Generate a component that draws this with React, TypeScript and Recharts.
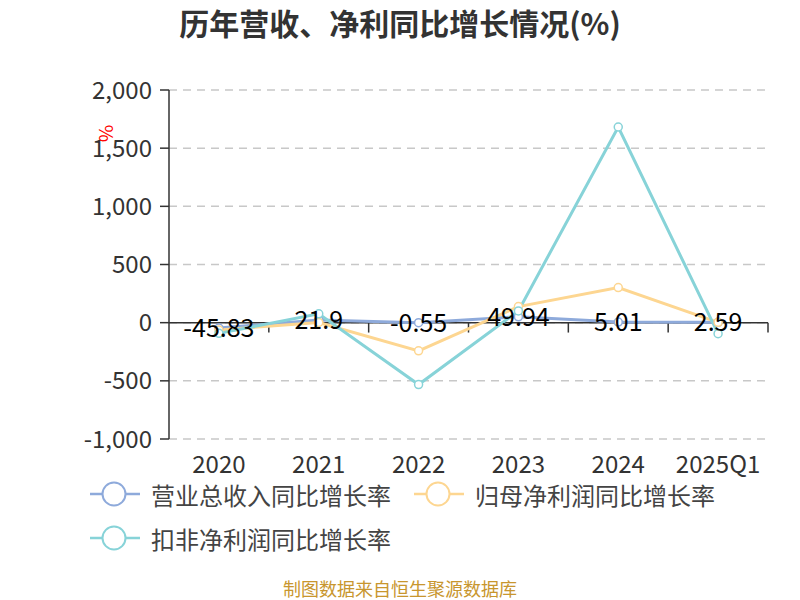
import React from 'react';
import { LineChart, Line, XAxis, YAxis, CartesianGrid, ReferenceLine, LabelList } from 'recharts';

const categories = ['2020', '2021', '2022', '2023', '2024', '2025Q1'];
const revenueGrowth = [-45.83, 21.9, -0.55, 49.94, 5.01, 2.59];
const netProfitGrowth = [-63, 2, -242, 138, 302, 3];
const deductedProfitGrowth = [-92, 76, -532, 101, 1682, -95];
const yTicks = [-1000, -500, 0, 500, 1000, 1500, 2000];

const series = [
  { key: 'revenue', name: '营业总收入同比增长率', color: '#8eaadb' },
  { key: 'netProfit', name: '归母净利润同比增长率', color: '#fdd691' },
  { key: 'deducted', name: '扣非净利润同比增长率', color: '#87d3d8' },
];

const data = categories.map((c, i) => ({
  cat: c,
  revenue: revenueGrowth[i],
  netProfit: netProfitGrowth[i],
  deducted: deductedProfitGrowth[i],
}));

const FONT = '"Noto Sans CJK SC", "Noto Sans", sans-serif';

const XTick = (props: any) => {
  const { x, y, payload } = props;
  return (
    <text x={x} y={y} dy={15} textAnchor="middle" dominantBaseline="central" fontSize={24} fill="#333" fontFamily={FONT}>
      {payload.value}
    </text>
  );
};

const PointLabel = (props: any) => {
  const { x, y, value } = props;
  return (
    <text x={x} y={y} dy={-2} textAnchor="middle" dominantBaseline="central" fontSize={25} fill="#000" fontFamily={FONT}>
      {value}
    </text>
  );
};

const tickSegments = categories.slice(1).map((c) => ({ cat: c }));
const lastCat = categories[categories.length - 1];

export default function App() {
  return (
    <div style={{ position: 'absolute', left: 0, top: 0, width: 800, height: 600, background: '#fff', fontFamily: FONT }}>
      <LineChart width={800} height={600} data={data} margin={{ top: 90, right: 32, left: 0, bottom: 121 }}>
        <CartesianGrid vertical={false} stroke="#c8c8c8" strokeDasharray="8 6" strokeWidth={1.5} />
        <XAxis dataKey="cat" scale="band" height={40} axisLine={false} tickLine={false} tick={<XTick />} interval={0} />
        <YAxis
          width={169}
          domain={[-1000, 2000]}
          ticks={yTicks}
          interval={0}
          tickFormatter={(v: number) => v.toLocaleString('en-US')}
          tick={{ fontSize: 24, fill: '#333', fontFamily: FONT }}
          tickSize={9}
          tickMargin={8}
          axisLine={{ stroke: '#333', strokeWidth: 1.5 }}
          tickLine={{ stroke: '#333', strokeWidth: 1.5 }}
        />
        <ReferenceLine y={0} stroke="#333" strokeWidth={1.5} />
        {tickSegments.map((t) => (
          <ReferenceLine
            key={t.cat}
            segment={[{ x: t.cat, y: 0 }, { x: t.cat, y: -85 }]}
            position="start"
            stroke="#333"
            strokeWidth={1.5}
          />
        ))}
        <ReferenceLine
          segment={[{ x: lastCat, y: 0 }, { x: lastCat, y: -85 }]}
          position="end"
          stroke="#333"
          strokeWidth={1.5}
        />
        {series.map((s) => (
          <Line
            key={s.key}
            dataKey={s.key}
            name={s.name}
            stroke={s.color}
            strokeWidth={3}
            dot={{ r: 4, fill: '#fff', stroke: s.color, strokeWidth: 1.5 }}
            activeDot={false}
            isAnimationActive={false}
          />
        ))}
        <Line dataKey="revenue" stroke="none" dot={false} activeDot={false} isAnimationActive={false} legendType="none">
          <LabelList dataKey="revenue" content={<PointLabel />} />
        </Line>
      </LineChart>

      <div style={{ position: 'absolute', left: 0, top: 3, width: 800, textAlign: 'center', fontSize: 30, lineHeight: '38px', fontWeight: 'bold', color: '#333' }}>
        历年营收、净利同比增长情况(%)
      </div>
      <div style={{ position: 'absolute', left: 99, top: 124, color: '#f00', fontSize: 19, transform: 'rotate(90deg)', lineHeight: '19px' }}>
        %
      </div>

      <svg width={800} height={600} style={{ position: 'absolute', left: 0, top: 0, pointerEvents: 'none' }}>
        {series.map((s, i) => {
          const lx = i === 1 ? 414 : 90;
          const ly = i === 2 ? 538 : 494;
          return (
            <g key={s.key}>
              <line x1={lx} y1={ly} x2={lx + 50} y2={ly} stroke={s.color} strokeWidth={2.5} />
              <circle cx={lx + 24} cy={ly} r={11.5} fill="#fff" stroke={s.color} strokeWidth={2} />
              <text x={lx + 61} y={ly} dominantBaseline="central" fontSize={24} fill="#444" fontFamily={FONT}>
                {s.name}
              </text>
            </g>
          );
        })}
        <text x={400} y={588} textAnchor="middle" dominantBaseline="central" fontSize={18} fill="#c8962e" fontFamily={FONT}>
          制图数据来自恒生聚源数据库
        </text>
      </svg>
    </div>
  );
}
